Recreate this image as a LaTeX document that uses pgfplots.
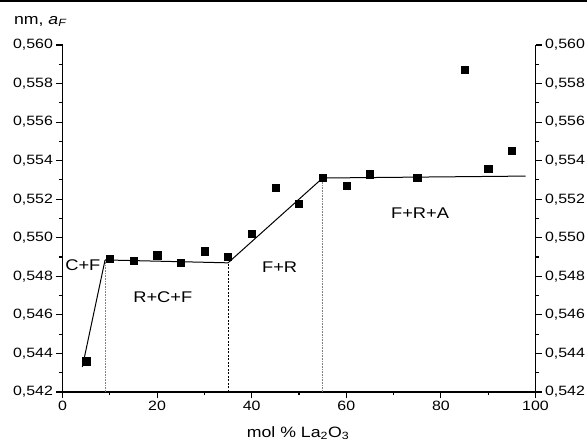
\documentclass[border=0pt]{standalone}
\usepackage{pgfplots}
\pgfplotsset{compat=1.18}
\usepackage{fontspec}
\setmainfont{Liberation Sans}[FakeStretch=1.18]
\begin{document}
\begin{tikzpicture}[x=1pt,y=1pt]
\useasboundingbox (0,0) rectangle (587,443);
\draw[line width=1.6pt] (0,442.2) -- (587,442.2);
\pgfplotsset{
  common/.style={
    at={(62.5pt,51pt)}, anchor=south west,
    scale only axis, width=473pt, height=347pt,
    xmin=0, xmax=100, ymin=0.542, ymax=0.560,
    xtick={0,20,40,60,80,100}, minor x tick num=1,
    ytick={0.542,0.544,0.546,0.548,0.550,0.552,0.554,0.556,0.558,0.560},
    minor y tick num=1,
    tick align=outside,
    major tick length=6pt, minor tick length=3.5pt,
    axis line style={line width=1.3pt},
    every tick/.style={line width=1.1pt, black},
    tick label style={font=\fontsize{13.5}{15}\selectfont},
    /pgf/number format/assume math mode=true,
    y tick label style={/pgf/number format/.cd, fixed, fixed zerofill, precision=3, use comma},
    x tick label style={/pgf/number format/.cd, fixed},
    clip=false,
  }
}
\begin{axis}[common,
  axis x line*=bottom, axis y line*=left,
  xticklabel shift=0pt,
  yticklabel shift=0pt,
  xlabel={mol \% La\textsubscript{2}O\textsubscript{3}},
  xlabel style={font=\fontsize{15}{17}\selectfont, at={(axis description cs:0.498,0)}, anchor=center, yshift=-41pt},
]
% guide lines
\addplot[gray, densely dotted, line width=0.6pt] coordinates {(9,0.542) (9,0.54885)};
\addplot[black, dashed, line width=0.6pt, dash pattern=on 2pt off 1.5pt] coordinates {(35,0.542) (35,0.5487)};
\addplot[gray, densely dotted, line width=0.6pt] coordinates {(55,0.542) (55,0.5531)};
% fitted lines
\addplot[black, line width=1pt] coordinates {(4.2,0.5433) (9,0.54885)};
\addplot[black, line width=1pt] coordinates {(9,0.54885) (35,0.5487) (55,0.5531) (97.9,0.5532)};
% data
\addplot[only marks, mark=square*, mark size=3.6pt, black] coordinates {
 (5,0.5436) (10,0.5489) (15,0.5488) (20,0.5491) (25,0.5487) (30,0.5493)
 (35,0.5490) (40,0.5502) (45,0.5526) (50,0.55175) (55,0.5531) (60,0.5527)
 (65,0.5533) (75,0.5531) (85,0.5587) (90,0.5536) (95,0.5545)};
\node[font=\fontsize{15.5}{17}\selectfont] at (axis cs:4.3,0.54859) {C+F};
\node[font=\fontsize{15.5}{17}\selectfont] at (axis cs:21.2,0.54693) {R+C+F};
\node[font=\fontsize{15.5}{17}\selectfont] at (axis cs:45.9,0.54848) {F+R};
\node[font=\fontsize{15.5}{17}\selectfont] at (axis cs:75.6,0.55128) {F+R+A};
\node[anchor=base west, font=\fontsize{15}{17}\selectfont] at (rel axis cs:-0.110,1.06) {nm, \itshape a\textsubscript{\itshape F}};
\end{axis}
\begin{axis}[common,
  axis x line=none, axis y line*=right,
  yticklabel pos=right,
  yticklabel shift=0pt,
]
\addplot[draw=none] coordinates {(0,0.55)};
\end{axis}
\end{tikzpicture}
\end{document}
